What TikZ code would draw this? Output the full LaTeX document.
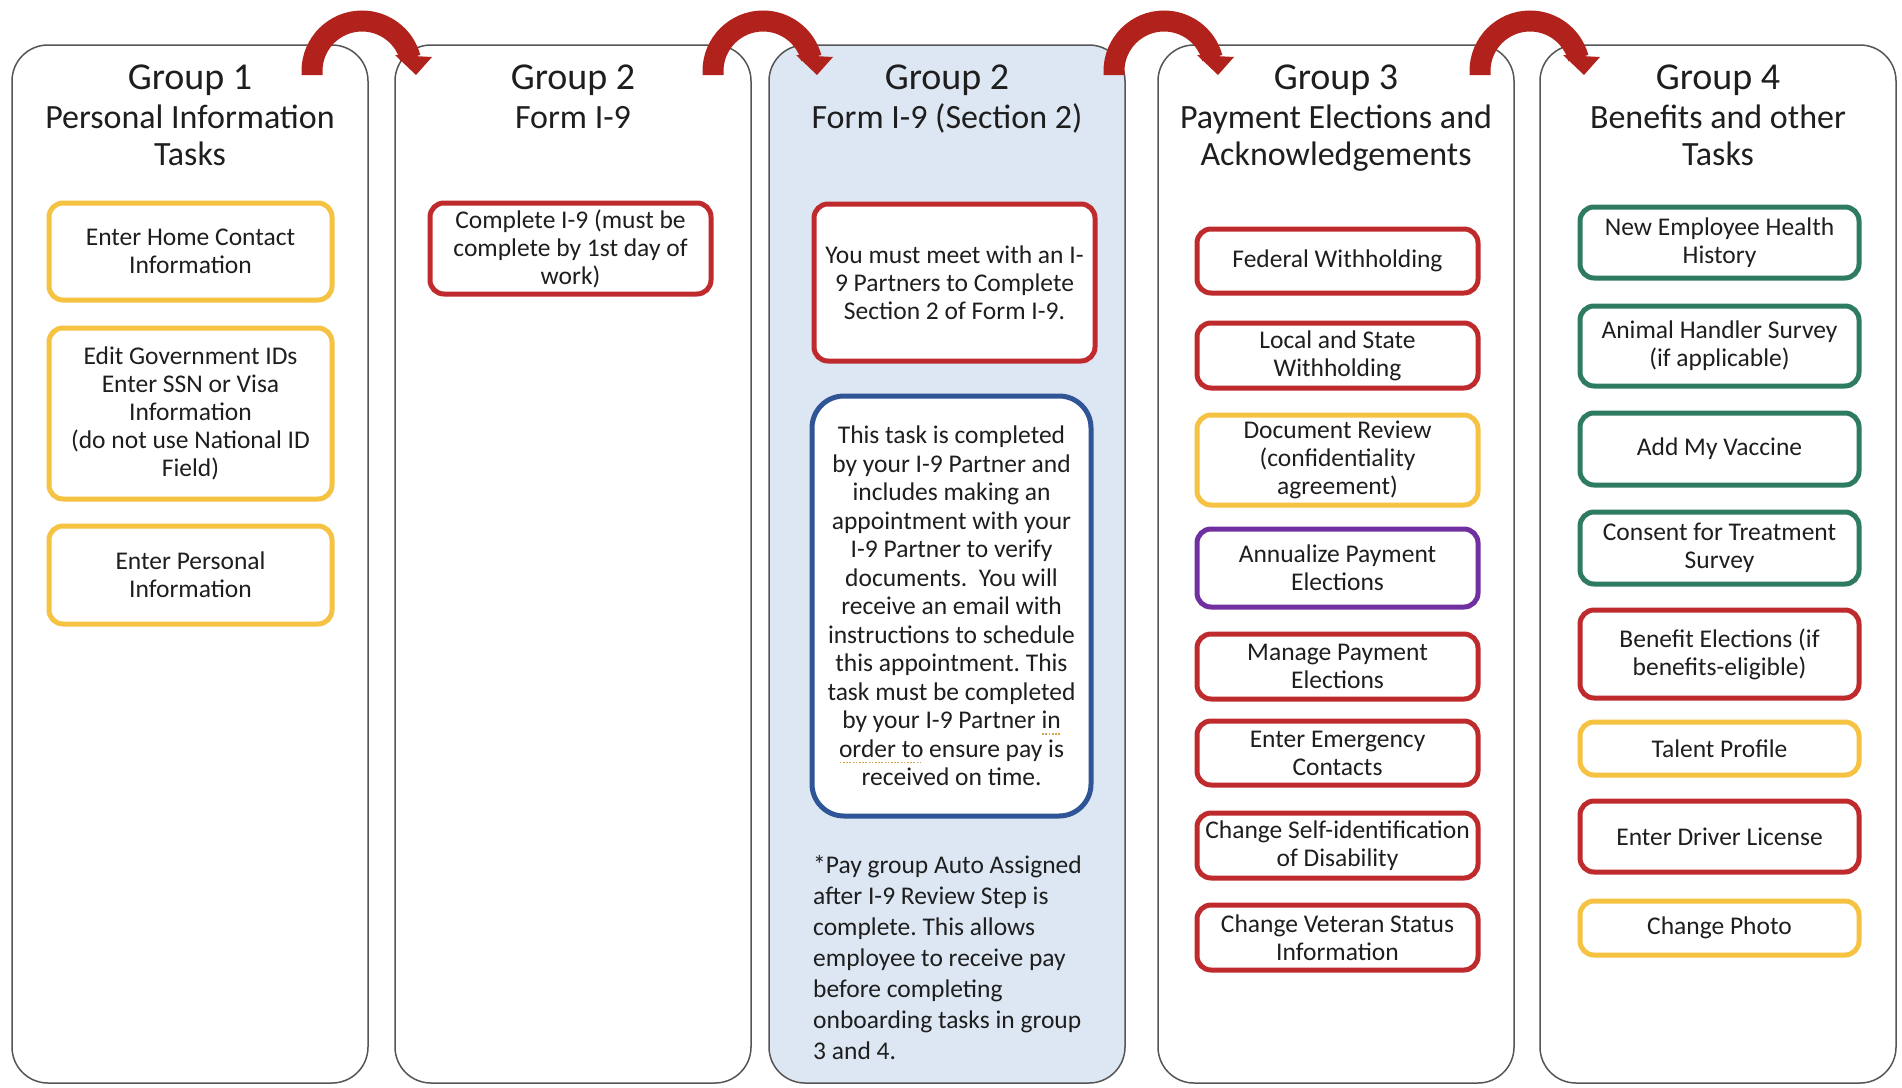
\documentclass[tikz,border=0pt]{standalone}
\usepackage{fontspec}
\setmainfont{Carlito}
\usetikzlibrary{calc}
\definecolor{tyellow}{HTML}{F5C242}
\definecolor{tred}{HTML}{BF2A2D}
\definecolor{tgreen}{HTML}{2E7B62}
\definecolor{tpurple}{HTML}{7030A0}
\definecolor{tblue}{HTML}{2F5597}
\definecolor{arrowred}{HTML}{B2221C}
\definecolor{lightblue}{HTML}{DDE7F3}
\definecolor{colline}{HTML}{555555}
\definecolor{txt}{HTML}{1E1E1E}
\definecolor{dotcol}{HTML}{D4A84A}
\frenchspacing
\newcommand\dotul[1]{\setbox0\hbox{#1}\rlap{\raisebox{-6pt}{\color{dotcol}\hbox to \wd0{\leaders\hbox to 3.2pt{\hss\rule{1.7pt}{1.7pt}\hss}\hfil}}}\box0\relax}
\newcommand\flowarrow[1]{%
  \draw[arrowred, line width=21pt] (#1-50,75) -- (#1-50,71) arc[start angle=180, end angle=15, radius=50pt];
  \fill[arrowred] (#1+33,55) -- (#1+70,57) -- (#1+54,75) -- cycle;}
\tikzset{
  column/.style={draw=colline, line width=1.5pt, rounded corners=36pt, minimum width=356pt, minimum height=1038pt, anchor=north west, inner sep=0pt, outer sep=0pt},
  grp/.style={font=\fontsize{38}{40}\selectfont, text=txt, anchor=base, inner sep=0pt},
  sub/.style={font=\fontsize{34}{36}\selectfont, text=txt, anchor=base, inner sep=0pt},
  task/.style={draw, line width=5pt, rounded corners=14pt, align=center, font=\fontsize{25.5}{28}\selectfont, text=txt, fill=white, inner sep=0pt, outer sep=0pt},
}
\begin{document}
\begin{tikzpicture}[x=1pt,y=-1pt]
\useasboundingbox (0,0) rectangle (1902,1087);
% columns
\node[column] (g1) at (12,45) {};
\node[column] (g2) at (395,45) {};
\node[column, fill=lightblue] (g3) at (769,45) {};
\node[column] (g4) at (1158,45) {};
\node[column] (g5) at (1540,45) {};
% titles
\node[grp] (t1a) at (190,89) {Group 1};
\node[sub] (t1b) at (190,128) {Personal Information};
\node[sub] (t1c) at (190,165) {Tasks};
\node[grp] (t2a) at (573,89) {Group 2};
\node[sub] (t2b) at (573,128) {Form I-9};
\node[grp] (t3a) at (947,89) {Group 2};
\node[sub] (t3b) at (947,128) {Form I-9 (Section 2)};
\node[grp] (t4a) at (1336,89) {Group 3};
\node[sub] (t4b) at (1336,128) {Payment Elections and};
\node[sub] (t4c) at (1336,165) {Acknowledgements};
\node[grp] (t5a) at (1718,89) {Group 4};
\node[sub] (t5b) at (1718,128) {Benefits and other};
\node[sub] (t5c) at (1718,165) {Tasks};
% group 1
\node[task, draw=tyellow, minimum width=283pt, minimum height=97pt] (home) at (190.5,251.5) {Enter Home Contact\\Information};
\node[task, draw=tyellow, minimum width=283pt, minimum height=171pt] (gov) at (190.5,413.5) {Edit Government IDs\\Enter SSN or Visa\\Information\\(do not use National ID\\Field)};
\node[task, draw=tyellow, minimum width=283pt, minimum height=98pt] (pers) at (190.5,575) {Enter Personal\\Information};
% group 2
\node[task, draw=tred, minimum width=281pt, minimum height=91pt] (i9) at (570.5,248.5) {Complete I-9 (must be\\complete by 1st day of\\work)};
% group 2 section 2
\node[task, draw=tred, minimum width=281pt, minimum height=157pt] (meet) at (954.5,282.5) {You must meet with an I-\\9 Partners to Complete\\Section 2 of Form I-9.};
\node[task, draw=tblue, rounded corners=32pt, minimum width=279pt, minimum height=420pt, font=\fontsize{25.5}{28.5}\selectfont] (partner) at (951.5,606) {This task is completed\\by your I-9 Partner and\\includes making an\\appointment with your\\I-9 Partner to verify\\documents.\ \ You will\\receive an email with\\instructions to schedule\\this appointment. This\\task must be completed\\by your I-9 Partner \dotul{in}\\\dotul{order to} ensure pay is\\received on time.};
\node[anchor=north west, align=left, inner sep=0pt, text=txt, font=\fontsize{25.5}{31}\selectfont] (note) at (813,855) {*Pay group Auto Assigned\\after I-9 Review Step is\\complete. This allows\\employee to receive pay\\before completing\\onboarding tasks in group\\3 and 4.};
% group 3
\node[task, draw=tred, minimum width=281pt, minimum height=64pt] (fed) at (1337.5,261) {Federal Withholding};
\node[task, draw=tred, minimum width=281pt, minimum height=65pt] (local) at (1337.5,355.5) {Local and State\\Withholding};
\node[task, draw=tyellow, minimum width=281pt, minimum height=90pt] (doc) at (1337.5,460) {Document Review\\(confidentiality\\agreement)};
\node[task, draw=tpurple, minimum width=281pt, minimum height=78pt] (ann) at (1337.5,568) {Annualize Payment\\Elections};
\node[task, draw=tred, minimum width=281pt, minimum height=65pt] (man) at (1337.5,666.5) {Manage Payment\\Elections};
\node[task, draw=tred, minimum width=281pt, minimum height=64pt] (emer) at (1337.5,753) {Enter Emergency\\Contacts};
\node[task, draw=tred, minimum width=281pt, minimum height=65pt] (dis) at (1337.5,845.5) {Change Self-identification\\of Disability};
\node[task, draw=tred, minimum width=281pt, minimum height=65pt] (vet) at (1337.5,937.5) {Change Veteran Status\\Information};
% group 4
\node[task, draw=tgreen, minimum width=279pt, minimum height=71pt] (health) at (1719.5,242.5) {New Employee Health\\History};
\node[task, draw=tgreen, minimum width=279pt, minimum height=80pt] (animal) at (1719.5,346) {Animal Handler Survey\\(if applicable)};
\node[task, draw=tgreen, minimum width=279pt, minimum height=72pt] (vacc) at (1719.5,449) {Add My Vaccine};
\node[task, draw=tgreen, minimum width=279pt, minimum height=72pt] (consent) at (1719.5,548) {Consent for Treatment\\Survey};
\node[task, draw=tred, minimum width=279pt, minimum height=88pt] (benefit) at (1719.5,654) {Benefit Elections (if\\benefits-eligible)};
\node[task, draw=tyellow, minimum width=279pt, minimum height=53pt] (talent) at (1719.5,748.5) {Talent Profile};
\node[task, draw=tred, minimum width=279pt, minimum height=71pt] (driver) at (1719.5,836.5) {Enter Driver License};
\node[task, draw=tyellow, minimum width=279pt, minimum height=54pt] (photo) at (1719.5,928) {Change Photo};
% arrows
\flowarrow{362}
\flowarrow{763}
\flowarrow{1164}
\flowarrow{1530}
\end{tikzpicture}
\end{document}
